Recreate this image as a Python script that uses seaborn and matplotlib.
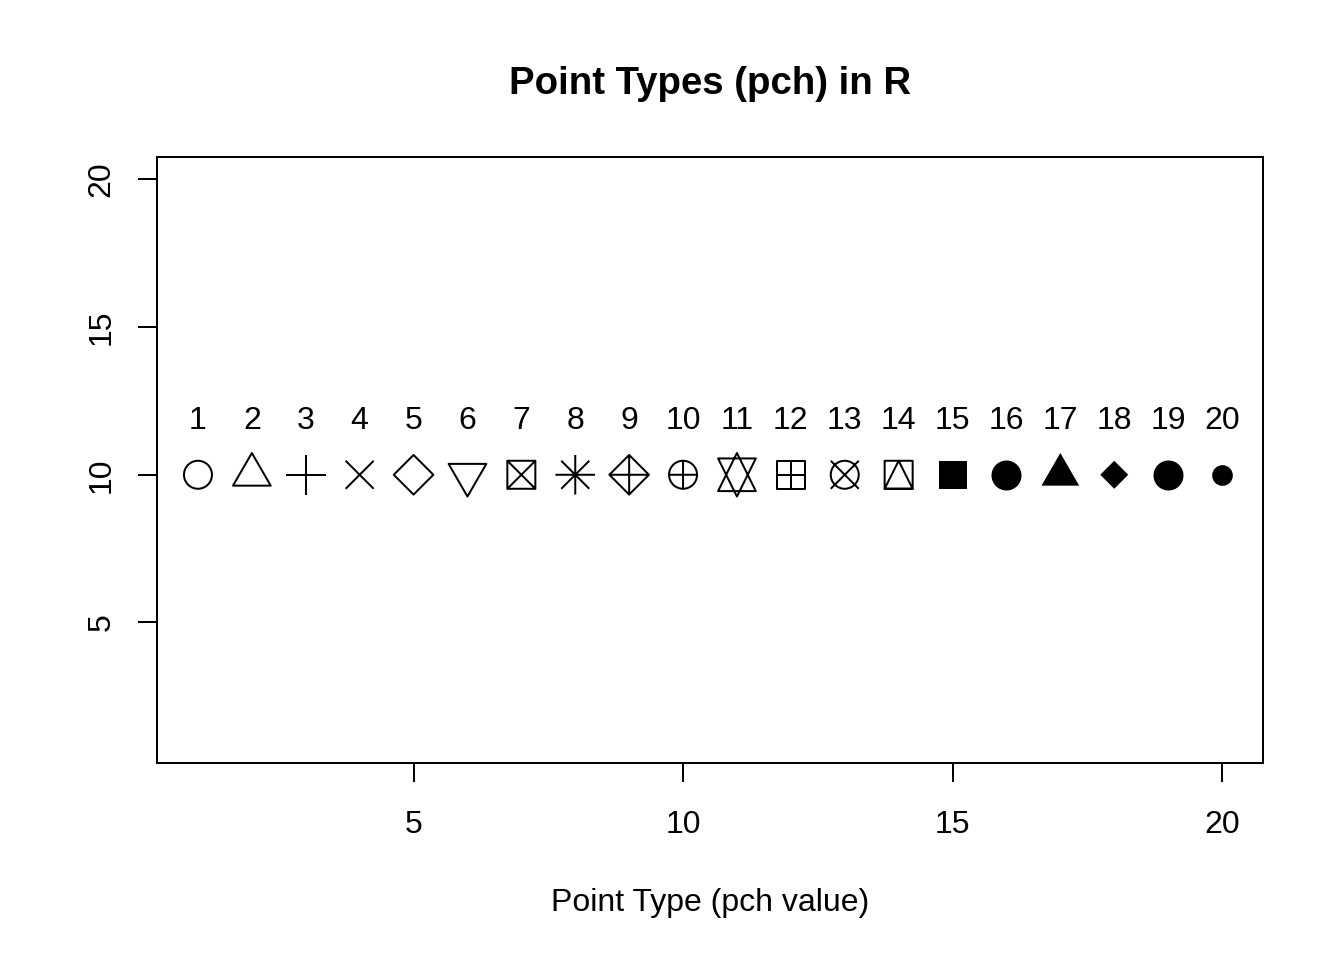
import numpy as np
import matplotlib
matplotlib.use("Agg")
import matplotlib.pyplot as plt
from matplotlib.path import Path
import seaborn as sns

# chart data
pch_values = list(range(1, 21))
point_y = [10] * 20
label_y = [12] * 20
y_range = [1, 20]
x_ticks = [5, 10, 15, 20]
y_ticks = [5, 10, 15, 20]
title = "Point Types (pch) in R"
x_label = "Point Type (pch value)"

sns.set_style("ticks", {"axes.edgecolor": "black", "text.color": "black",
                        "axes.labelcolor": "black",
                        "xtick.color": "black", "ytick.color": "black"})
plt.rcParams['font.family'] = ['Liberation Sans', 'DejaVu Sans']

# R's symbol geometry constants (radius = 1 unit)
TRC0 = np.sqrt(4 * np.pi / (3 * np.sqrt(3)))
TRC1 = TRC0 * np.sqrt(3) / 2
TRC2 = TRC0 / 2
S2 = np.sqrt(2)


def poly(pts):
    verts = list(pts) + [pts[0]]
    codes = [Path.MOVETO] + [Path.LINETO] * (len(pts) - 1) + [Path.CLOSEPOLY]
    return Path(verts, codes)


def lines(segs):
    verts, codes = [], []
    for a, b in segs:
        verts += [a, b]
        codes += [Path.MOVETO, Path.LINETO]
    return Path(verts, codes)


def plus(h):
    return lines([((-h, 0), (h, 0)), ((0, -h), (0, h))])


def cross(h):
    return lines([((-h, -h), (h, h)), ((-h, h), (h, -h))])


def diamond(h):
    return poly([(0, h), (h, 0), (0, -h), (-h, 0)])


def circle(r):
    return Path.circle((0, 0), r)


square = poly([(-1, -1), (1, -1), (1, 1), (-1, 1)])
tri_up = poly([(0, TRC0), (TRC1, -TRC2), (-TRC1, -TRC2)])
tri_down = poly([(0, -TRC0), (TRC1, TRC2), (-TRC1, TRC2)])
yc11 = 0.5 * (TRC2 + TRC0)
both = Path.make_compound_path

markers = {
    1: (circle(1), "open"),
    2: (tri_up, "open"),
    3: (plus(S2), "open"),
    4: (cross(1), "open"),
    5: (diamond(S2), "open"),
    6: (tri_down, "open"),
    7: (both(square, cross(1)), "open"),
    8: (both(plus(S2), cross(1)), "open"),
    9: (both(diamond(S2), plus(S2)), "open"),
    10: (both(circle(1), plus(1)), "open"),
    11: (both(poly([(0, -TRC0), (TRC1, yc11), (-TRC1, yc11)]),
              poly([(0, TRC0), (TRC1, -yc11), (-TRC1, -yc11)])), "open"),
    12: (both(square, plus(1)), "open"),
    13: (both(circle(1), cross(1)), "open"),
    14: (both(square, poly([(0, 1), (1, -1), (-1, -1)])), "open"),
    15: (square, "solid"),
    16: (circle(1), "border"),
    17: (tri_up, "solid"),
    18: (diamond(1), "solid"),
    19: (circle(1), "border"),
    20: (circle(2 / 3), "border"),
}

R0_PT = 14 / 192 * 72   # symbol radius in points
LW = 0.75

fig = plt.figure(figsize=(7, 5), dpi=192)
ax = fig.add_axes([157 / 1344, 1 - 763 / 960, (1263 - 157) / 1344, (763 - 157) / 960])

for px, py in zip(pch_values, point_y):
    path, kind = markers[px]
    size = (2 * np.max(np.abs(path.vertices)) * R0_PT) ** 2
    if kind == "open":
        fc, ec, lw = "none", "black", LW
    elif kind == "solid":
        fc, ec, lw = "black", "none", 0
    else:
        fc, ec, lw = "black", "black", LW
    sns.scatterplot(x=[px], y=[py], marker=path, s=size, color="black",
                    facecolor=fc, edgecolor=ec, linewidth=lw, ax=ax,
                    legend=False, zorder=3)

for px, ly in zip(pch_values, label_y):
    ax.annotate(str(px), (px, ly), xytext=(0, -1.9), textcoords="offset points",
                ha="center", va="center", fontsize=12)

xr = max(pch_values) - min(pch_values)
ax.set_xlim(min(pch_values) - 0.04 * xr, max(pch_values) + 0.04 * xr)
yr = y_range[1] - y_range[0]
ax.set_ylim(y_range[0] - 0.04 * yr, y_range[1] + 0.04 * yr)

ax.set_xticks(x_ticks)
ax.set_yticks(y_ticks)
ax.set_yticklabels([str(v) for v in y_ticks], rotation=90, va="center")
ax.tick_params(axis="both", length=7.2, width=LW, labelsize=12)
ax.tick_params(axis="x", pad=10.6)
ax.tick_params(axis="y", pad=8)

for sp in ax.spines.values():
    sp.set_visible(True)
    sp.set_linewidth(LW)
    sp.set_color("black")

ax.set_title(title, fontsize=14.4, fontweight="bold", pad=23.6)
ax.set_xlabel(x_label, fontsize=12, labelpad=18)
ax.set_ylabel("")

fig.savefig("out.png", dpi=192)
